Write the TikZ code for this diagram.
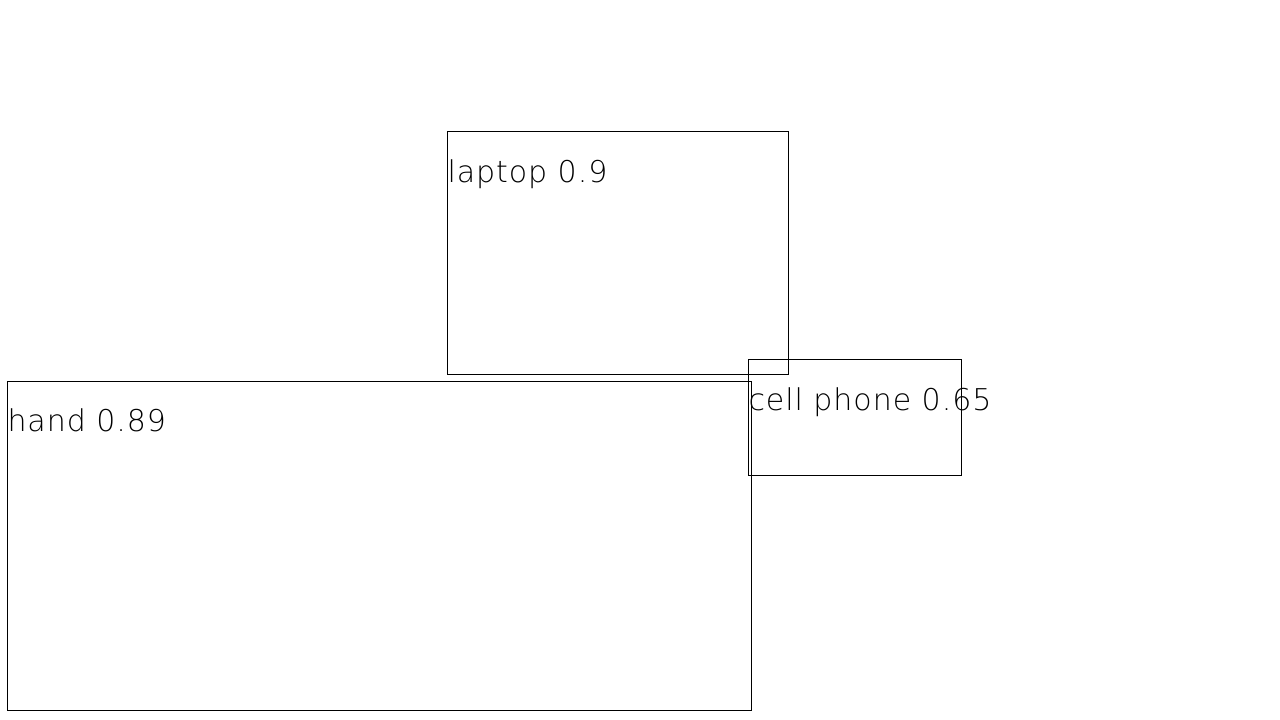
\documentclass[tikz,border=0pt]{standalone}
\usepackage{fontspec}
\newfontfamily\detfont[LetterSpace=3.2]{DejaVu Sans ExtraLight}

\begin{document}
\begin{tikzpicture}[x=1pt, y=-1pt, line width=1pt,
  score/.style={anchor=base west, inner sep=0pt, font=\detfont\fontsize{30}{30}\selectfont}]
\useasboundingbox (0,0) rectangle (1280,720);

\draw (447,131) rectangle (788,374);
\node[score] (laptop) at (447,182) {laptop 0.9};

\draw (748,359) rectangle (961,475);
\node[score] (phone) at (748,410) {cell phone 0.65};

\draw (7,381) rectangle (751,710);
\node[score] (hand) at (7,431) {hand 0.89};

\end{tikzpicture}
\end{document}
